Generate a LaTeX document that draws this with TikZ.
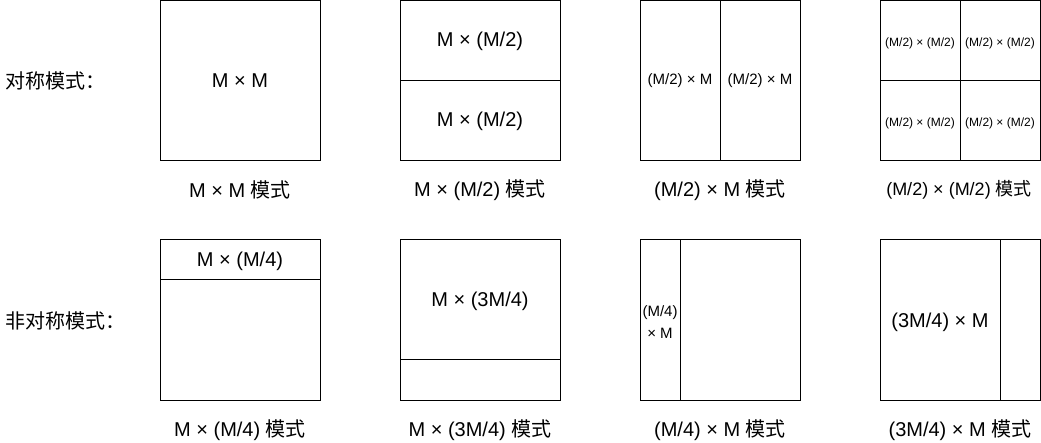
\documentclass[tikz,border=0pt]{standalone}
\usepackage{fontspec}
\setmainfont{Liberation Sans}
\newfontfamily\cjk{Noto Sans CJK SC}
\usetikzlibrary{calc}
\tikzset{
  box/.style={draw=black, line width=1pt, minimum width=160pt, minimum height=160pt, inner sep=0pt, outer sep=0pt},
  divider/.style={draw=black, line width=1pt},
  big/.style={font=\fontsize{20}{24}\selectfont, inner sep=0pt},
  cap4/.style={font=\fontsize{18}{22}\selectfont, inner sep=0pt},
  mid/.style={font=\fontsize{15}{18}\selectfont, inner sep=0pt},
  small/.style={font=\fontsize{12}{14}\selectfont, inner sep=0pt},
  side/.style={font=\cjk\fontsize{20}{24}\selectfont, inner sep=0pt, anchor=west},
}
\begin{document}
\begin{tikzpicture}[x=1pt,y=-1pt]
\useasboundingbox (0,0) rectangle (1041,443);
% row labels
\node[side] (l1) at (5,81) {对称模式：};
\node[side] (l2) at (5,321) {非对称模式：};
% row 1 boxes
\node[box] (b1) at (240,80.5) {};
\node[box] (b2) at (480,80.5) {};
\node[box] (b3) at (720,80.5) {};
\node[box] (b4) at (960,80.5) {};
\draw[divider] (b2.west) -- (b2.east);
\draw[divider] (b3.north) -- (b3.south);
\draw[divider] (b4.west) -- (b4.east);
\draw[divider] (b4.north) -- (b4.south);
% row 1 texts
\node[big] (t1) at (240,81) {M × M};
\node[big] (t2a) at (480,41) {M × (M/2)};
\node[big] (t2b) at (480,121) {M × (M/2)};
\node[mid] (t3a) at (680,81) {(M/2) × M};
\node[mid] (t3b) at (760,81) {(M/2) × M};
\node[small] (t4a) at (920,43) {(M/2) × (M/2)};
\node[small] (t4b) at (1000,43) {(M/2) × (M/2)};
\node[small] (t4c) at (920,123) {(M/2) × (M/2)};
\node[small] (t4d) at (1000,123) {(M/2) × (M/2)};
% row 1 captions
\node[big] (c1) at (240,190) {M × M {\cjk 模式}};
\node[big] (c2) at (480,190) {M × (M/2) {\cjk 模式}};
\node[big] (c3) at (720,190) {(M/2) × M {\cjk 模式}};
\node[cap4] (c4) at (959,190) {(M/2) × (M/2) {\cjk 模式}};
% row 2 boxes
\node[box] (b5) at (240,320) {};
\node[box] (b6) at (480,320) {};
\node[box] (b7) at (720,320) {};
\node[box] (b8) at (960,320) {};
\draw[divider] ($(b5.north west)!0.25!(b5.south west)$) -- ($(b5.north east)!0.25!(b5.south east)$);
\draw[divider] ($(b6.north west)!0.75!(b6.south west)$) -- ($(b6.north east)!0.75!(b6.south east)$);
\draw[divider] ($(b7.north west)!0.25!(b7.north east)$) -- ($(b7.south west)!0.25!(b7.south east)$);
\draw[divider] ($(b8.north west)!0.75!(b8.north east)$) -- ($(b8.south west)!0.75!(b8.south east)$);
% row 2 texts
\node[big] (t5) at (240,261) {M × (M/4)};
\node[big] (t6) at (480,301) {M × (3M/4)};
\node[mid, align=center, font=\fontsize{15}{22}\selectfont] (t7) at (660,322) {(M/4)\\× M};
\node[big] (t8) at (940,322) {(3M/4) × M};
% row 2 captions
\node[big] (c5) at (240,430) {M × (M/4) {\cjk 模式}};
\node[big] (c6) at (480,430) {M × (3M/4) {\cjk 模式}};
\node[big] (c7) at (720,430) {(M/4) × M {\cjk 模式}};
\node[big] (c8) at (960,430) {(3M/4) × M {\cjk 模式}};
\end{tikzpicture}
\end{document}
